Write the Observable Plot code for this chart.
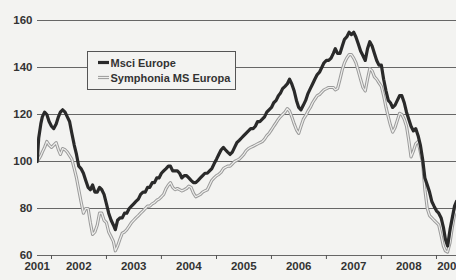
<!DOCTYPE html>
<html><head><meta charset="utf-8">
<script src="https://cdn.jsdelivr.net/npm/d3@7"></script>
<script src="https://cdn.jsdelivr.net/npm/@observablehq/plot@0.6"></script>
<style>
html,body{margin:0;padding:0;background:#f3f3f1;}
#wrap{position:relative;width:456px;height:280px;overflow:hidden;}
#legend{position:absolute;left:87px;top:51px;}
</style>
</head><body>
<div id="wrap"><div id="chart"></div><div id="legend"></div></div>
<script>
const dates = [
"2001-09-28","2001-10-08","2001-10-22","2001-11-01","2001-11-16","2001-12-01","2001-12-16",
"2002-01-01","2002-01-16","2002-02-01","2002-02-16","2002-03-01","2002-03-16","2002-04-01","2002-04-16","2002-05-01","2002-05-16","2002-06-01","2002-06-16","2002-07-01","2002-07-16","2002-08-01","2002-08-16","2002-09-01","2002-09-16","2002-10-01","2002-10-16","2002-11-01","2002-11-16","2002-12-01","2002-12-16",
"2003-01-01","2003-01-16","2003-02-01","2003-02-16","2003-03-01","2003-03-16","2003-04-01","2003-04-16","2003-05-01","2003-05-16","2003-06-01","2003-06-16","2003-07-01","2003-07-16","2003-08-01","2003-08-16","2003-09-01","2003-09-16","2003-10-01","2003-10-16","2003-11-01","2003-11-16","2003-12-01","2003-12-16",
"2004-01-01","2004-01-16","2004-02-01","2004-02-16","2004-03-01","2004-03-16","2004-04-01","2004-04-16","2004-05-01","2004-05-16","2004-06-01","2004-06-16","2004-07-01","2004-07-16","2004-08-01","2004-08-16","2004-09-01","2004-09-16","2004-10-01","2004-10-16","2004-11-01","2004-11-16","2004-12-01","2004-12-16",
"2005-01-01","2005-01-16","2005-02-01","2005-02-16","2005-03-01","2005-03-16","2005-04-01","2005-04-16","2005-05-01","2005-05-16","2005-06-01","2005-06-16","2005-07-01","2005-07-16","2005-08-01","2005-08-16","2005-09-01","2005-09-16","2005-10-01","2005-10-16","2005-11-01","2005-11-16","2005-12-01","2005-12-16",
"2006-01-01","2006-01-16","2006-02-01","2006-02-16","2006-03-01","2006-03-16","2006-04-01","2006-04-16","2006-05-01","2006-05-16","2006-06-01","2006-06-16","2006-07-01","2006-07-16","2006-08-01","2006-08-16","2006-09-01","2006-09-16","2006-10-01","2006-10-16","2006-11-01","2006-11-16","2006-12-01","2006-12-16",
"2007-01-01","2007-01-16","2007-02-01","2007-02-16","2007-03-01","2007-03-16","2007-04-01","2007-04-16","2007-05-01","2007-05-16","2007-06-01","2007-06-16","2007-07-01","2007-07-16","2007-08-01","2007-08-16","2007-09-01","2007-09-16","2007-10-01","2007-10-16","2007-11-01","2007-11-16","2007-12-01","2007-12-16",
"2008-01-01","2008-01-16","2008-02-01","2008-02-16","2008-03-01","2008-03-16","2008-04-01","2008-04-16","2008-05-01","2008-05-16","2008-06-01","2008-06-16","2008-07-01","2008-07-16","2008-08-01","2008-08-16","2008-09-01","2008-09-16","2008-10-01","2008-10-16","2008-11-01","2008-11-16","2008-12-01","2008-12-16",
"2009-01-01","2009-01-16","2009-02-01","2009-02-16","2009-03-01","2009-03-16","2009-04-01","2009-04-16","2009-05-01","2009-05-14"
];
const msci = [
100,110,116,119,121,120,117,
115,114,116,119,121,122,121,119,117,112,107,103,98,97,95,92,89,88,90,87,87,89,88,86,
82,78,75,73,71,75,76,76,78,78,80,81,82,83,84,86,87,87,89,89,91,91,93,93,
95,96,97,98,98,96,96,96,95,93,94,94,93,92,91,91,92,93,94,95,95,96,97,99,
101,103,105,106,105,104,103,104,106,108,109,110,111,112,113,114,114,115,117,117,118,119,121,122,
123,125,126,128,129,131,132,133,135,133,130,126,123,122,124,126,129,131,133,135,137,138,140,142,
143,143,144,146,148,146,146,149,152,153,155,154,155,153,150,147,145,143,148,151,149,146,143,141,
141,135,130,126,125,123,124,126,128,128,125,121,118,115,113,114,111,107,101,93,90,87,83,81,
79,78,76,72,67,64,71,76,81,83
];
const symphonia = [
100,101,102.5,104,106,108.5,107,
106,107,108,105,103,105.5,105,104,102.5,101,97,93,88,83,78,80,80,74,69,70,73,78,78,75,
74,70,68,66,62,64,67,69.5,70,71,72.5,74,75,76,77,78,79,80,81,81,82,82.5,83.5,84,
85,86,88.5,90,91,89,88,88.5,88,87.5,88,88.5,89.5,89,86.5,85,85.5,86,87,87.5,88,90,92,93,
94,94.5,95.5,97,97.5,98,98,99,100,100.5,101,102,103,104.5,105.5,106,106.5,107,107.5,108,108.5,109.5,111,112,
113.5,115,116.5,118,119,120,121,122.5,121.5,119,116,113.5,112,115,118,119.5,121.5,123,125,126.5,128,128.5,129.5,130.5,
131,131.5,131.5,131.5,130.5,131,135,139,142,144,145.5,145.5,144,142,138.5,135,131.5,130,135,139.5,138.5,136,135,133.5,
132,128,123,119,115.5,112.5,114.5,117.5,120.5,120,118,115,109,102,104.5,107.5,108.5,104,99.5,88,80,77,76,75,
74,73,68.5,64,62,61.5,65.5,72,77.5,80
];
const seriesNames = ["Msci Europe", "Symphonia MS Europa"];
const yTicks = [60, 80, 100, 120, 140, 160];
const yearStarts = ["2002-01-01","2003-01-01","2004-01-01","2005-01-01","2006-01-01","2007-01-01","2008-01-01","2009-01-01"];
const yearLabels = ["2001","2002","2003","2004","2005","2006","2007","2008","2009"];
const yearLabelDates = ["2001-09-28","2002-07-01","2003-07-01","2004-07-01","2005-07-01","2006-07-01","2007-07-01","2008-07-01","2009-04-01"];

const FONT = '"Liberation Sans", Arial, sans-serif';
const BG = "#f3f3f1";
const data = dates.map((d, i) => ({date: new Date(d), msci: msci[i], symph: symphonia[i]}));
const labels = yearLabels.map((t, i) => ({date: new Date(yearLabelDates[i]), text: t}));

const chart = Plot.plot({
  width: 456, height: 280,
  marginLeft: 37, marginRight: 0, marginTop: 20, marginBottom: 25,
  style: {background: "transparent", fontFamily: FONT, fontSize: "11.5px", fontWeight: "bold", color: "#333"},
  x: {type: "utc", domain: [new Date("2001-09-30"), new Date("2009-05-14")], axis: null},
  y: {domain: [60, 160], axis: null},
  marks: [
    Plot.ruleY(yTicks, {stroke: "#666", strokeWidth: 1}),
    Plot.axisY({ticks: yTicks, tickSize: 0, tickPadding: 5, fill: "#333"}),
    Plot.axisX({ticks: yearStarts.map(d => new Date(d)), tickSize: 4, tickFormat: () => "", stroke: "#555"}),
    Plot.text(labels, {x: "date", text: "text", frameAnchor: "bottom", dy: 14.5, fill: "#333", fontSize: 11.5, fontWeight: "bold"}),
    Plot.lineY(data, {x: "date", y: "symph", stroke: "#9a9a9a", strokeWidth: 3.2, clip: true}),
    Plot.lineY(data, {x: "date", y: "symph", stroke: "#eeeeec", strokeWidth: 1.2, clip: true}),
    Plot.lineY(data, {x: "date", y: "msci", stroke: "#2a2a2a", strokeWidth: 3.2, clip: true})
  ]
});
document.getElementById("chart").appendChild(chart);

// Legend
const lg = d3.select("#legend").append("svg").attr("width", 150).attr("height", 40)
  .style("font-family", FONT).style("font-weight", "bold").style("font-size", "11px");
lg.append("rect").attr("x", 0.5).attr("y", 0.5).attr("width", 148).attr("height", 38)
  .attr("fill", BG).attr("stroke", "#555").attr("stroke-width", 1);
lg.append("line").attr("x1", 11).attr("x2", 22).attr("y1", 11.5).attr("y2", 11.5).attr("stroke", "#2a2a2a").attr("stroke-width", 3.2);
lg.append("text").attr("x", 23.5).attr("y", 15.5).attr("fill", "#333").text(seriesNames[0]);
lg.append("line").attr("x1", 11).attr("x2", 22).attr("y1", 26.5).attr("y2", 26.5).attr("stroke", "#9a9a9a").attr("stroke-width", 3.2);
lg.append("line").attr("x1", 11).attr("x2", 22).attr("y1", 26.5).attr("y2", 26.5).attr("stroke", "#eeeeec").attr("stroke-width", 1.2);
lg.append("text").attr("x", 23.5).attr("y", 30.5).attr("fill", "#333").text(seriesNames[1]);
</script>
</body></html>
